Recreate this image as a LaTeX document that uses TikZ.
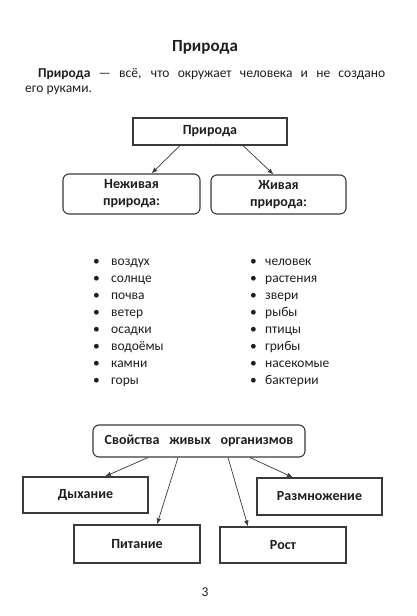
\documentclass[tikz,border=0pt]{standalone}
\usepackage{fontspec}
\setmainfont{Carlito}
\usepackage{xcolor}
\usetikzlibrary{positioning,arrows.meta}

\definecolor{ink}{HTML}{1E1E1E}
\definecolor{frame}{HTML}{3A3A3A}

\begin{document}
\begin{tikzpicture}[
    x=1pt, y=-1pt,
    box/.style={
        draw=frame,
        line width=1.1pt,
        rectangle,
        text=ink,
        font=\fontsize{14}{17}\selectfont\bfseries,
        align=center,
        inner sep=0pt
    },
    rbox/.style={box, rounded corners=6pt},
    txt/.style={text=ink, font=\fontsize{13.5}{17.1}\selectfont, inner sep=0pt},
    list/.style={txt, align=left, anchor=base west},
    arrow/.style={-{Latex[length=6pt,width=4.5pt]}, draw=frame, line width=0.7pt}
]
\useasboundingbox[fill=white] (0,0) rectangle (416,616);

% heading and definition
\node[txt, font=\fontsize{17}{20}\selectfont\bfseries, anchor=base] (title) at (205,51) {Природа};
\node[txt, anchor=base west] (line1) at (38,77)
    {\makebox[347pt][s]{\textbf{Природа} — всё, что окружает человека и не создано}};
\node[txt, anchor=base west] (line2) at (25,92) {его руками.};

% nature tree
\node[box, minimum width=154pt, minimum height=27pt] (nature) at (210,131.5) {Природа};
\node[rbox, minimum width=137pt, minimum height=40pt] (dead) at (131.5,194) {Неживая\\природа:};
\node[rbox, minimum width=135pt, minimum height=39pt] (alive) at (278.5,194.5) {Живая\\природа:};

\draw[arrow] ([xshift=-30pt]nature.south) -- ([xshift=20pt]dead.north);
\draw[arrow] ([xshift=33pt]nature.south) -- ([xshift=-5pt]alive.north);

% lists (node baseline = last line)
\node[list] (deadlist) at (93,384.7) {
\makebox[18pt][l]{\textbullet}воздух\\
\makebox[18pt][l]{\textbullet}солнце\\
\makebox[18pt][l]{\textbullet}почва\\
\makebox[18pt][l]{\textbullet}ветер\\
\makebox[18pt][l]{\textbullet}осадки\\
\makebox[18pt][l]{\textbullet}водоёмы\\
\makebox[18pt][l]{\textbullet}камни\\
\makebox[18pt][l]{\textbullet}горы
};

\node[list] (alivelist) at (250,384.7) {
\makebox[15pt][l]{\textbullet}человек\\
\makebox[15pt][l]{\textbullet}растения\\
\makebox[15pt][l]{\textbullet}звери\\
\makebox[15pt][l]{\textbullet}рыбы\\
\makebox[15pt][l]{\textbullet}птицы\\
\makebox[15pt][l]{\textbullet}грибы\\
\makebox[15pt][l]{\textbullet}насекомые\\
\makebox[15pt][l]{\textbullet}бактерии
};

% properties of living things
\node[rbox, minimum width=212pt, minimum height=32pt] (props) at (199,441)
    {Свойства\hspace{0.7em}живых\hspace{0.7em}организмов};
\node[box, minimum width=125pt, minimum height=36pt] (breath) at (85.5,495) {Дыхание};
\node[box, minimum width=126pt, minimum height=38pt] (food) at (137,544) {Питание};
\node[box, minimum width=126pt, minimum height=36pt] (growth) at (283,545) {Рост};
\node[box, minimum width=125pt, minimum height=37pt] (repro) at (319.5,496.5) {Размножение};

\draw[arrow] ([xshift=-51pt]props.south) -- ([xshift=19.5pt]breath.north);
\draw[arrow] ([xshift=-21pt]props.south) -- ([xshift=20pt]food.north);
\draw[arrow] ([xshift=29pt]props.south) -- ([xshift=-35pt]growth.north);
\draw[arrow] ([xshift=51pt]props.south) -- ([xshift=-26.5pt]repro.north);

\node[txt, anchor=base] (page) at (205,596) {3};

\end{tikzpicture}
\end{document}
